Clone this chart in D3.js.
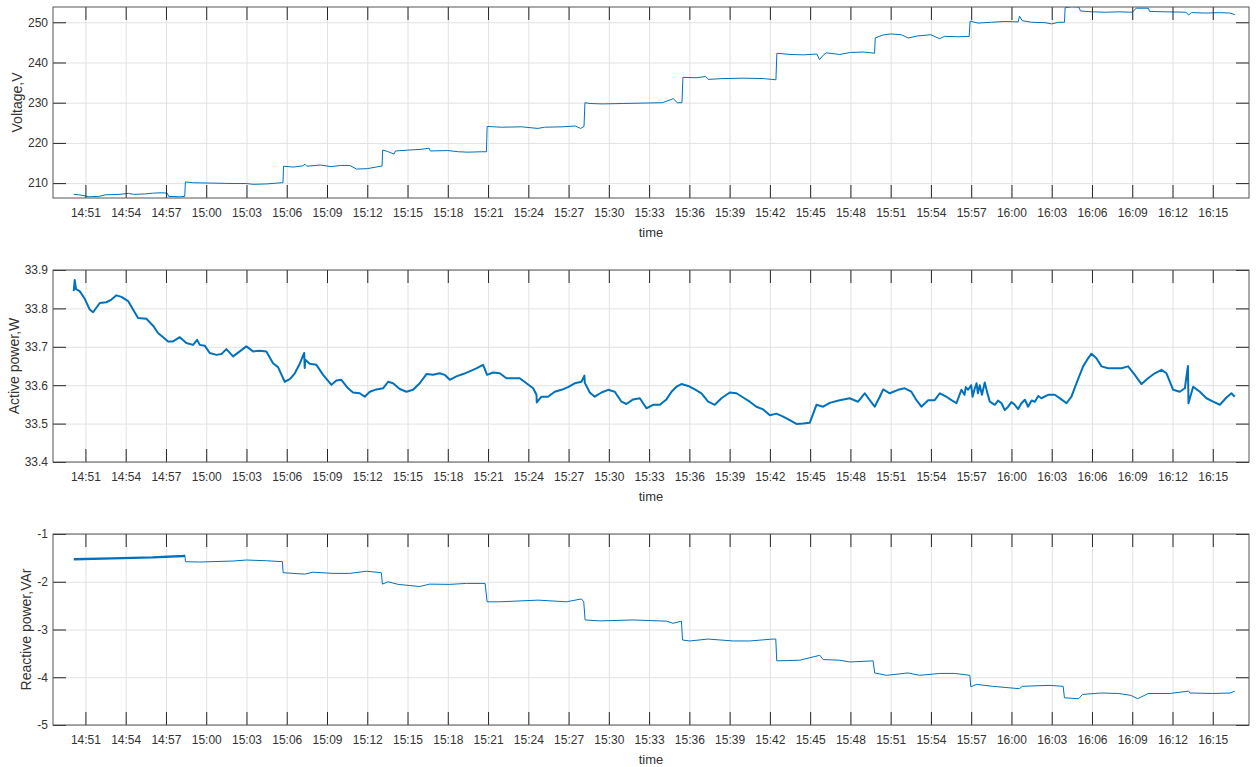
<!DOCTYPE html>
<html lang="en">
<head>
<meta charset="utf-8">
<title>Voltage and power vs time</title>
<script src="https://d3js.org/d3.v7.min.js"></script>
<style>
  body { margin: 0; background: #fff; }
  svg text { font-family: "Liberation Sans", Arial, sans-serif; fill: #333; }
</style>
</head>
<body>
<script>
// x tick labels (every 3 minutes)
const timeTicks = ["14:51","14:54","14:57","15:00","15:03","15:06","15:09","15:12","15:15","15:18",
  "15:21","15:24","15:27","15:30","15:33","15:36","15:39","15:42","15:45","15:48",
  "15:51","15:54","15:57","16:00","16:03","16:06","16:09","16:12","16:15"]
const timeStart = "14:48:35"
const timeEnd = "16:17:42"

// y ticks
const voltTicks = [210, 220, 230, 240, 250]
const powerTicks = [33.4, 33.5, 33.6, 33.7, 33.8, 33.9]
const reactTicks = [-5, -4, -3, -2, -1]

// times are minutes after 14:51:00
const voltT = [-0.87,-0.5,0,0.3,1.0,1.5,2.5,3.2,3.6,4.4,5.0,5.7,6.1,6.2,7.0,7.4,7.45,8.0,9.5,11.0,12.0,12.5,13.5,14.6,14.72,
  14.76,15.5,16.2,16.35,16.5,17.5,18.3,19.0,19.7,20.2,21.0,22.0,22.1,22.15,22.5,23.0,23.1,24.0,25.0,25.6,25.7,27.0,27.8,28.5,
  29.5,29.88,29.93,31.0,32.5,33.7,34.2,35.5,36.5,36.9,37.15,37.22,37.6,38.5,40.0,41.5,43.0,43.8,44.1,44.45,44.52,45.5,46.2,
  46.4,47.5,49.0,50.5,51.45,51.52,52.5,53.5,54.5,54.7,55.0,55.2,56.2,57.0,58.0,58.8,58.85,59.4,60.0,60.8,61.3,62.0,63.0,
  63.65,64.0,65.0,65.85,65.92,66.5,67.5,68.5,69.5,69.6,69.8,70.5,71.5,72.0,72.5,72.95,73.0,73.5,74.0,74.15,75.0,76.0,77.0,
  78.0,78.3,79.2,79.3,80.5,82.0,82.2,82.4,83.5,84.5,85.3,85.64]
const voltV = [207.2,207.1,206.8,206.6,206.7,207.1,207.2,207.45,207.2,207.3,207.5,207.6,207.5,206.7,206.6,206.7,210.3,210.1,
  210.0,209.9,209.9,209.7,209.8,210.1,210.1,214.2,214.0,214.3,214.7,214.2,214.5,214.1,214.4,214.4,213.5,213.6,214.2,214.2,
  218.2,217.9,217.2,218.0,218.2,218.4,218.7,218.0,218.1,217.8,217.7,217.8,217.8,224.1,223.9,224.0,223.6,223.9,224.0,224.2,
  223.6,224.1,230.0,229.8,229.7,229.8,229.9,230.0,231.0,230.0,230.0,236.3,236.2,236.5,235.8,236.0,236.1,236.0,235.7,242.3,
  242.0,241.9,242.1,240.7,241.9,242.4,242.0,242.5,242.6,242.3,246.1,246.8,247.1,246.9,246.1,246.6,246.9,245.9,246.5,246.4,
  246.5,250.3,249.8,250.0,250.2,250.1,251.5,250.4,250.0,249.9,249.6,250.0,250.0,253.6,253.9,253.8,252.8,252.6,252.5,252.6,
  252.5,253.5,253.5,252.7,252.6,252.5,251.8,252.4,252.3,252.4,252.3,251.9]

const powerT = [-0.87,-0.8,-0.7,-0.43,-0.05,0.32,0.57,1.07,1.56,1.94,2.31,2.68,3.18,3.55,3.92,4.54,5.04,5.41,5.79,6.16,6.53,
  7.03,7.52,8.02,8.32,8.52,8.89,9.26,9.76,10.13,10.5,11.0,11.5,11.99,12.49,12.99,13.48,13.98,14.35,14.85,15.23,15.6,15.97,
  16.3,16.34,16.38,16.71,17.21,17.71,18.33,18.7,19.07,19.57,19.94,20.44,20.81,21.19,21.68,22.18,22.55,22.92,23.42,23.92,
  24.41,24.91,25.41,25.9,26.4,26.77,27.15,27.64,28.14,28.63,29.13,29.63,29.93,30.37,30.87,31.37,31.86,32.36,32.86,33.36,
  33.61,33.63,33.98,34.47,34.97,35.47,35.96,36.46,36.96,37.18,37.21,37.58,37.95,38.45,38.95,39.44,39.94,40.31,40.81,41.31,
  41.8,42.3,42.8,43.29,43.67,44.04,44.41,44.91,45.41,45.9,46.4,46.89,47.39,48.01,48.51,49.01,49.5,50.0,50.5,51.0,51.49,
  51.99,52.48,52.98,53.48,53.97,54.47,54.97,55.46,56.2,56.95,57.57,58.07,58.44,58.81,59.19,59.44,59.93,60.55,61.05,61.54,
  61.92,62.29,62.79,63.28,63.66,64.15,64.53,64.9,65.27,65.5,65.6,65.77,66.0,66.1,66.27,66.4,66.5,66.64,66.8,67.01,67.2,
  67.39,67.76,68.0,68.26,68.5,68.75,69.0,69.25,69.5,69.74,70.0,70.24,70.5,70.74,71.0,71.23,71.73,72.23,72.72,73.1,73.47,
  73.84,74.34,74.71,74.96,75.33,75.71,76.2,76.7,77.2,77.69,78.19,78.69,79.18,79.68,80.18,80.55,81.05,81.54,81.92,82.15,
  82.17,82.19,82.54,83.04,83.53,84.03,84.53,85.02,85.39,85.64]
const powerV = [33.845,33.874,33.85,33.845,33.825,33.797,33.79,33.814,33.816,33.823,33.834,33.83,33.819,33.797,33.775,33.773,
  33.755,33.736,33.725,33.714,33.714,33.725,33.71,33.705,33.718,33.705,33.703,33.684,33.679,33.681,33.694,33.675,33.688,
  33.701,33.688,33.69,33.688,33.657,33.647,33.609,33.616,33.631,33.656,33.684,33.645,33.666,33.656,33.653,33.627,33.601,
  33.612,33.614,33.592,33.581,33.579,33.57,33.583,33.589,33.592,33.609,33.605,33.59,33.583,33.588,33.605,33.629,33.627,
  33.631,33.627,33.614,33.623,33.629,33.636,33.644,33.653,33.627,33.633,33.631,33.618,33.618,33.618,33.605,33.592,33.575,
  33.555,33.57,33.57,33.583,33.588,33.595,33.605,33.609,33.625,33.606,33.581,33.57,33.581,33.588,33.583,33.557,33.551,
  33.563,33.566,33.54,33.549,33.549,33.563,33.583,33.596,33.603,33.598,33.589,33.579,33.557,33.549,33.566,33.581,33.579,
  33.568,33.557,33.544,33.537,33.522,33.526,33.518,33.509,33.499,33.5,33.502,33.549,33.544,33.554,33.561,33.566,33.557,
  33.579,33.561,33.544,33.57,33.589,33.579,33.588,33.592,33.583,33.561,33.544,33.561,33.561,33.579,33.57,33.561,33.553,
  33.588,33.575,33.595,33.588,33.6,33.57,33.592,33.605,33.579,33.6,33.575,33.607,33.58,33.557,33.549,33.56,33.553,33.535,
  33.544,33.556,33.549,33.538,33.553,33.562,33.544,33.56,33.557,33.572,33.566,33.575,33.575,33.563,33.553,33.57,33.605,
  33.649,33.67,33.682,33.67,33.649,33.644,33.644,33.644,33.649,33.627,33.603,33.618,33.631,33.64,33.631,33.588,33.583,
  33.592,33.65,33.601,33.553,33.596,33.583,33.566,33.557,33.549,33.568,33.579,33.57]

const reactT = [-0.87,2.0,5.0,7.3,7.42,7.45,8.5,11.0,12.0,13.5,14.68,14.73,15.47,16.34,16.96,18.45,19.7,20.94,22.05,22.13,22.55,
  23.3,24.91,25.65,27.15,28.39,29.78,29.93,30.87,33.73,35.84,36.96,37.13,37.23,38.33,40.81,43.29,43.79,44.41,44.49,45.03,
  46.4,48.26,49.5,51.24,51.44,51.51,53.23,54.72,54.97,56.2,56.95,58.69,58.81,59.69,61.29,62.17,63.66,64.78,65.9,65.97,66.4,
  67.6,69.6,69.8,71.8,72.85,72.95,74.0,74.3,75.7,77.0,77.9,78.4,79.2,80.8,82.2,82.3,84.0,85.3,85.64]
const reactV = [-1.53,-1.51,-1.49,-1.46,-1.455,-1.58,-1.587,-1.566,-1.545,-1.56,-1.58,-1.81,-1.825,-1.84,-1.80,-1.825,-1.825,
  -1.78,-1.81,-2.05,-2.0,-2.055,-2.1,-2.05,-2.055,-2.035,-2.035,-2.42,-2.42,-2.385,-2.42,-2.36,-2.42,-2.80,-2.82,-2.80,
  -2.825,-2.87,-2.825,-3.22,-3.24,-3.20,-3.24,-3.24,-3.20,-3.20,-3.657,-3.643,-3.54,-3.63,-3.643,-3.68,-3.657,-3.91,-3.96,
  -3.91,-3.96,-3.92,-3.92,-3.96,-4.20,-4.15,-4.19,-4.24,-4.19,-4.17,-4.19,-4.43,-4.45,-4.36,-4.33,-4.34,-4.38,-4.45,-4.34,
  -4.34,-4.29,-4.33,-4.34,-4.33,-4.29]

const measurements = { width: 1257, height: 767, left: 53, right: 1249 }
const lineColor = "#0072BD"

const parseHM = d3.timeParse("%H:%M")
const parseHMS = d3.timeParse("%H:%M:%S")
const base = parseHM("14:51")
const toDate = m => new Date(base.getTime() + m * 60000)

const svg = d3.select("body").append("svg")
  .attr("width", measurements.width)
  .attr("height", measurements.height)

const x = d3.scaleTime()
  .domain([parseHMS(timeStart), parseHMS(timeEnd)])
  .range([measurements.left, measurements.right])

const tickDates = timeTicks.map(parseHM)

// line width: the noisier stretches look thicker in the original
drawPanel(0, 7, 198, [206.3, 253.8], voltTicks, d3.format("d"), "Voltage,V", 17, voltT, voltV, t => 1)
drawPanel(1, 270, 462, [33.4, 33.9], powerTicks, d3.format(".1f"), "Active power,W", 14, powerT, powerV, t => 2)
drawPanel(2, 534, 725, [-5, -1], reactTicks, d => String(d), "Reactive power,VAr", 26, reactT, reactV, t => t < 7.43 ? 2.4 : 1)

function drawPanel(idx, top, bottom, yDomain, yTicks, yFmt, yLabel, yLabelX, tArr, vArr, lwAt) {
  const y = d3.scaleLinear().domain(yDomain).range([bottom, top])
  const w = measurements.right - measurements.left
  const h = bottom - top
  const g = svg.append("g")

  // grid
  g.append("g")
    .attr("transform", "translate(0," + bottom + ")")
    .call(d3.axisBottom(x).tickValues(tickDates).tickSize(-h).tickFormat(""))
    .call(s => s.select(".domain").remove())
    .call(s => s.selectAll("line").attr("stroke", "#e2e2e2"))
  g.append("g")
    .attr("transform", "translate(" + measurements.left + ",0)")
    .call(d3.axisLeft(y).tickValues(yTicks).tickSize(-w).tickFormat(""))
    .call(s => s.select(".domain").remove())
    .call(s => s.selectAll("line").attr("stroke", "#e2e2e2"))

  // data line, split into runs of equal width
  g.append("clipPath").attr("id", "clip" + idx)
    .append("rect").attr("x", measurements.left).attr("y", top).attr("width", w).attr("height", h)
  const pts = tArr.map((t, i) => ({ t: t, date: toDate(t), v: vArr[i] }))
  const runs = []
  pts.forEach((p, i) => {
    const lw = lwAt(p.t)
    if (!runs.length || runs[runs.length - 1].lw !== lw) {
      const run = { lw: lw, pts: [] }
      if (i > 0) run.pts.push(pts[i - 1])
      runs.push(run)
    }
    runs[runs.length - 1].pts.push(p)
  })
  const line = d3.line().x(d => x(d.date)).y(d => y(d.v))
  g.selectAll(".series")
    .data(runs)
    .enter().append("path")
    .attr("class", "series")
    .attr("clip-path", "url(#clip" + idx + ")")
    .attr("fill", "none")
    .attr("stroke", lineColor)
    .attr("stroke-width", d => d.lw)
    .attr("stroke-linejoin", "round")
    .attr("d", d => line(d.pts))

  // ticks, inside, on all four sides
  const tickLen = 13
  g.append("g")
    .attr("transform", "translate(0," + bottom + ")")
    .call(d3.axisBottom(x).tickValues(tickDates).tickSize(-tickLen).tickPadding(10).tickFormat(d3.timeFormat("%H:%M")))
  g.append("g")
    .attr("transform", "translate(0," + top + ")")
    .call(d3.axisTop(x).tickValues(tickDates).tickSize(-tickLen).tickFormat(""))
  g.append("g")
    .attr("transform", "translate(" + measurements.left + ",0)")
    .call(d3.axisLeft(y).tickValues(yTicks).tickSize(-tickLen).tickPadding(5).tickFormat(yFmt))
  g.append("g")
    .attr("transform", "translate(" + measurements.right + ",0)")
    .call(d3.axisRight(y).tickValues(yTicks).tickSize(-tickLen).tickFormat(""))
  g.selectAll(".domain").remove()
  g.selectAll(".tick line").filter(function () { return this.getAttribute("stroke") !== "#e2e2e2" })
    .attr("stroke", "#262626")
  g.selectAll(".tick text").attr("fill", "#333").style("font-size", "12px")

  // box
  g.append("rect")
    .attr("x", measurements.left).attr("y", top)
    .attr("width", w).attr("height", h)
    .attr("fill", "none").attr("stroke", "#555").attr("stroke-width", 1)

  // labels
  g.append("text")
    .attr("x", (measurements.left + measurements.right) / 2)
    .attr("y", bottom + 39)
    .attr("text-anchor", "middle")
    .style("font-size", "13px")
    .text("time")
  g.append("text")
    .attr("transform", "translate(" + yLabelX + "," + (top + bottom) / 2 + ") rotate(-90)")
    .attr("dy", "0.35em")
    .attr("text-anchor", "middle")
    .style("font-size", "14px")
    .text(yLabel)
}
</script>
</body>
</html>
